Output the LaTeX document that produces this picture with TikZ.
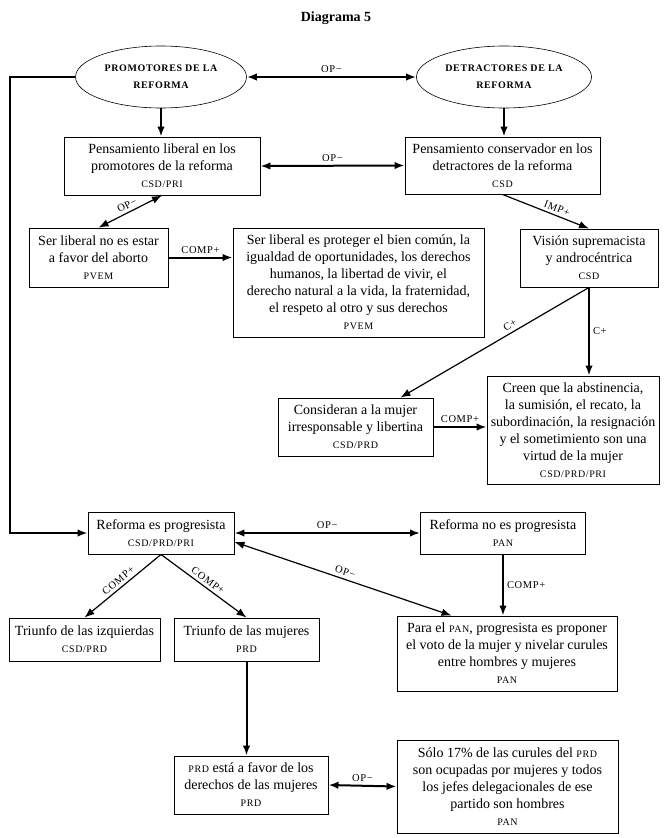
\documentclass[tikz,border=0pt]{standalone}
\usepackage{fontspec}
\setmainfont{Liberation Serif}
\newfontfamily\scfont[LetterSpace=6]{Liberation Serif}
\usetikzlibrary{arrows.meta,positioning,shapes.geometric,calc}
\newcommand{\partido}[1]{{\fontsize{10}{17}\scfont #1}}

\begin{document}
\begin{tikzpicture}[
    x=1pt, y=-1pt,
    font=\fontsize{14}{17}\selectfont,
    box/.style={draw, line width=0.9pt, align=center, inner sep=2pt},
    actor/.style={draw, ellipse, line width=0.6pt, align=center,
                  minimum width=171pt, minimum height=62pt,
                  font=\fontsize{10}{17}\scfont\bfseries},
    arr/.style={-{Latex[length=10pt,width=7.5pt]}, line width=2pt},
    darr/.style={arr, {Latex[length=10pt,width=7.5pt]}-{Latex[length=10pt,width=7.5pt]}},
    slim/.style={line width=1.2pt},
    lbl/.style={font=\fontsize{10.5}{12}\scfont, inner sep=3pt},
]
    \useasboundingbox (0,0) rectangle (669,838);
    \node[font=\fontsize{14}{17}\selectfont\bfseries] (titulo) at (336,18) {Diagrama 5};

    % actores
    \node[actor] (prom) at (161,77) {PROMOTORES DE LA\\REFORMA};
    \node[actor] (det) at (504,77) {DETRACTORES DE LA\\REFORMA};

    % pensamiento
    \node[box, minimum width=196pt, minimum height=58pt] (pl) at (162,166)
        {Pensamiento liberal en los\\promotores de la reforma\\\partido{CSD/PRI}};
    \node[box, minimum width=195pt, minimum height=57pt] (pc) at (502.5,165.5)
        {Pensamiento conservador en los\\detractores de la reforma\\\partido{CSD}};
    \node[box, minimum width=139pt, minimum height=59pt] (snl) at (98.5,257.5)
        {Ser liberal no es estar\\a favor del aborto\\\partido{PVEM}};
    \node[box, minimum width=251pt, minimum height=109pt] (sle) at (358.5,282.5)
        {Ser liberal es proteger el bien común, la\\igualdad de oportunidades, los derechos\\humanos, la libertad de vivir, el\\derecho natural a la vida, la fraternidad,\\el respeto al otro y sus derechos\\\partido{PVEM}};
    \node[box, minimum width=138pt, minimum height=58pt] (vis) at (589,258)
        {Visión supremacista\\y androcéntrica\\\partido{CSD}};
    \node[box, minimum width=155pt, minimum height=58pt] (cons) at (355.5,427)
        {Consideran a la mujer\\irresponsable y libertina\\\partido{CSD/PRD}};
    \node[box, minimum width=172pt, minimum height=108pt] (creen) at (573,430)
        {Creen que la abstinencia,\\la sumisión, el recato, la\\subordinación, la resignación\\y el sometimiento son una\\virtud de la mujer\\\partido{CSD/PRD/PRI}};

    % reforma
    \node[box, minimum width=146pt, minimum height=42pt] (rep) at (161,533)
        {Reforma es progresista\\\partido{CSD/PRD/PRI}};
    \node[box, minimum width=165pt, minimum height=42pt] (rnp) at (503,533)
        {Reforma no es progresista\\\partido{PAN}};
    \node[box, minimum width=151pt, minimum height=43pt] (tiz) at (84.5,639.5)
        {Triunfo de las izquierdas\\\partido{CSD/PRD}};
    \node[box, minimum width=145pt, minimum height=43pt] (tmu) at (246.5,639.5)
        {Triunfo de las mujeres\\\partido{PRD}};
    \node[box, minimum width=220pt, minimum height=75pt] (para) at (507,653.5)
        {Para el \partido{PAN}, progresista es proponer\\el voto de la mujer y nivelar curules\\entre hombres y mujeres\\\partido{PAN}};
    \node[box, minimum width=154pt, minimum height=58pt] (prd) at (251,785)
        {\partido{PRD} está a favor de los\\derechos de las mujeres\\\partido{PRD}};
    \node[box, minimum width=221pt, minimum height=93pt] (solo) at (507.5,786.5)
        {Sólo 17\% de las curules del \partido{PRD}\\son ocupadas por mujeres y todos\\los jefes delegacionales de ese\\partido son hombres\\\partido{PAN}};

    \coordinate (lft) at (10,77);
    \coordinate (consin) at ($(cons.north east)+(-33,0)$);
    \coordinate (repout) at ($(rep.east)+(0,9)$);
    \coordinate (parain) at ($(para.north west)+(55,0)$);

    \draw[darr] (prom.east) -- (det.west) node[lbl, midway, above] {OP−};
    \draw[arr] (prom.south) -- (prom.south |- pl.north);
    \draw[arr] (det.south) -- (det.south |- pc.north);
    \draw[darr] (pl.east) -- (pc.west) node[lbl, midway, above] {OP−};
    \draw[darr, slim] (pl.south) -- (snl.north) node[lbl, midway, above, sloped] {OP−};
    \draw[arr] (snl.east) -- (snl.east -| sle.west) node[lbl, midway, above] {COMP+};
    \draw[arr, slim] (pc.south) -- (vis.north) node[lbl, pos=0.6, above, sloped] {IMP+};
    \draw[arr, slim] (vis.south) -- (consin) node[lbl, pos=0.4, above, sloped] {C+};
    \draw[arr] (vis.south) -- (vis.south |- creen.north) node[lbl, midway, right] {C+};
    \draw[arr] (cons.east) -- (cons.east -| creen.west) node[lbl, midway, above] {COMP+};

    \draw[arr] (prom.west) -- (lft) |- (rep.west);
    \draw[darr] (rep.east) -- (rnp.west) node[lbl, midway, above] {OP−};
    \draw[darr, slim] (repout) -- (parain) node[lbl, midway, above, sloped] {OP−};
    \draw[arr] (rnp.south) -- (rnp.south |- para.north) node[lbl, midway, right] {COMP+};
    \draw[arr, slim] (rep.south) -- (tiz.north) node[lbl, midway, above, sloped] {COMP+};
    \draw[arr, slim] (rep.south) -- (tmu.north) node[lbl, midway, above, sloped] {COMP+};
    \draw[arr] (tmu.south) -- (tmu.south |- prd.north);
    \draw[darr] (prd.east) -- (solo.west) node[lbl, midway, above] {OP−};
\end{tikzpicture}
\end{document}
